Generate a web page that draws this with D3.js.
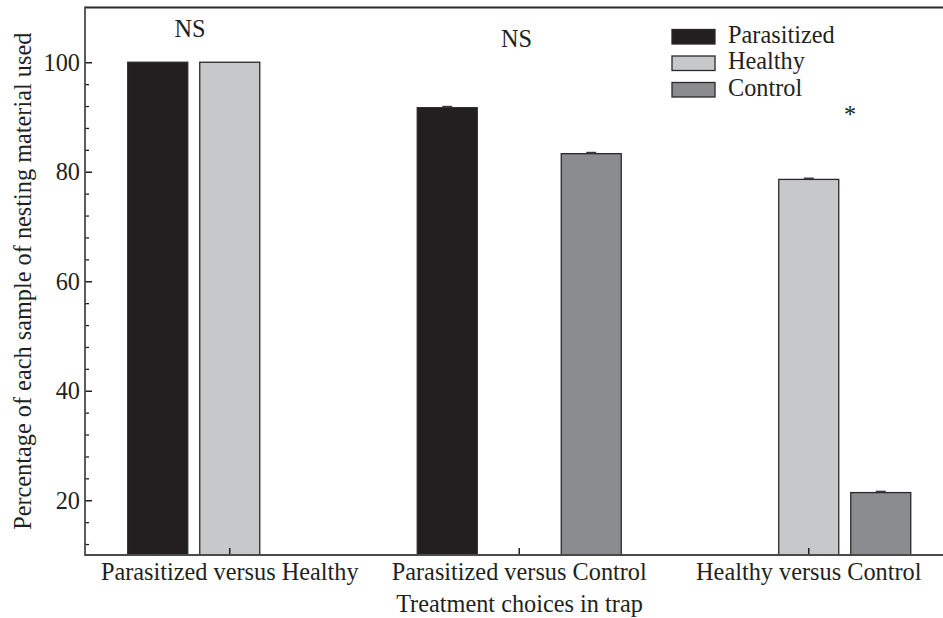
<!DOCTYPE html>
<html>
<head>
<meta charset="utf-8">
<script src="https://cdn.jsdelivr.net/npm/d3@7/dist/d3.min.js"></script>
<style>
  html, body { margin: 0; padding: 0; background: #fff; }
  svg { display: block; }
  text { font-family: "Liberation Serif", "DejaVu Serif", serif; fill: #231f20; }
</style>
</head>
<body>
<div id="chart"></div>
<script>
// Treatment pairs offered in each trap
const categories = ["Parasitized versus Healthy", "Parasitized versus Control", "Healthy versus Control"];
// Nesting material samples
const series = ["Parasitized", "Healthy", "Control"];
// Percentage of each sample used, per pair (null = sample not offered)
const parasitizedValues = [100, 91.7, null];
const healthyValues     = [100, null, 78.6];
const controlValues     = [null, 83.3, 21.4];
// Standard errors
const parasitizedErrors = [0, 0.2, null];
const healthyErrors     = [0, null, 0.2];
const controlErrors     = [null, 0.2, 0.2];
// Significance labels per pair
const significance = ["NS", "NS", "*"];
// Y-axis ticks
const yMajorTicks = [20, 40, 60, 80, 100];
const yMinorTicks = [12, 16, 24, 28, 32, 36, 44, 48, 52, 56, 64, 68, 72, 76, 84, 88, 92, 96];

const colors = { Parasitized: "#231f20", Healthy: "#c7c8ca", Control: "#8b8c8f" };
const valuesBySeries = { Parasitized: parasitizedValues, Healthy: healthyValues, Control: controlValues };
const errorsBySeries = { Parasitized: parasitizedErrors, Healthy: healthyErrors, Control: controlErrors };

const W = 943, H = 618;
const plotLeft = 85, plotTop = 7.5, plotBottom = 555, plotRight = 953.5;
const fs = 24.3;

const svg = d3.select("#chart").append("svg").attr("width", W).attr("height", H);

const x0 = d3.scaleBand().domain(categories).range([plotLeft, plotRight]).padding(0);
const x1 = d3.scaleBand().domain(series).range([-108, 108]).paddingInner(1 / 6).paddingOuter(1 / 12);
const y = d3.scaleLinear().domain([10, 110]).range([plotBottom, plotTop]);

// bar records built from the series arrays
const bars = [];
categories.forEach((c, i) => {
  series.forEach(s => {
    const v = valuesBySeries[s][i];
    if (v != null) bars.push({ cat: c, s, v, e: errorsBySeries[s][i] });
  });
});

const axisColor = "#4a4a4a";

// frame: top border
svg.append("line").attr("x1", plotLeft).attr("x2", plotRight).attr("y1", plotTop).attr("y2", plotTop)
  .attr("stroke", "#2a2a2a").attr("stroke-width", 1.8);

// bars
const barG = svg.append("g");
barG.selectAll("rect").data(bars).join("rect")
  .attr("x", d => x0(d.cat) + x0.bandwidth() / 2 + x1(d.s))
  .attr("y", d => y(d.v))
  .attr("width", x1.bandwidth())
  .attr("height", d => y(10) - y(d.v))
  .attr("fill", d => colors[d.s])
  .attr("stroke", "#2b2829")
  .attr("stroke-width", 1.3);

// error caps
barG.selectAll("g.err").data(bars.filter(d => d.e > 0)).join("g").attr("class", "err")
  .each(function (d) {
    const cx = x0(d.cat) + x0.bandwidth() / 2 + x1(d.s) + x1.bandwidth() / 2;
    const g = d3.select(this);
    g.append("line").attr("x1", cx).attr("x2", cx).attr("y1", y(d.v)).attr("y2", y(d.v + d.e))
      .attr("stroke", "#3a3a3a").attr("stroke-width", 1.2);
    g.append("line").attr("x1", cx - 5).attr("x2", cx + 5).attr("y1", y(d.v + d.e)).attr("y2", y(d.v + d.e))
      .attr("stroke", "#3a3a3a").attr("stroke-width", 1.6);
  });

// y axis: major ticks (inward) with labels
const yAxis = svg.append("g").attr("transform", `translate(${plotLeft},0)`)
  .call(d3.axisRight(y).tickValues(yMajorTicks).tickSize(7).tickFormat(""));
yAxis.select(".domain").remove();
yAxis.selectAll("line").attr("stroke", "#231f20").attr("stroke-width", 1.5);
svg.append("g").selectAll("text").data(yMajorTicks).join("text")
  .attr("x", plotLeft - 5).attr("y", d => y(d)).attr("dy", "0.35em")
  .attr("text-anchor", "end").attr("font-size", fs).text(d => d);

// y minor ticks
const yMinor = svg.append("g").attr("transform", `translate(${plotLeft},0)`)
  .call(d3.axisRight(y).tickValues(yMinorTicks).tickSize(4).tickFormat(""));
yMinor.select(".domain").remove();
yMinor.selectAll("line").attr("stroke", "#231f20").attr("stroke-width", 1.3);

// x axis: ticks point up into the plot
const xAxis = svg.append("g").attr("transform", `translate(0,${plotBottom})`)
  .call(d3.axisTop(x0).tickSize(7).tickFormat(""));
xAxis.select(".domain").remove();
xAxis.selectAll("line").attr("stroke", "#231f20").attr("stroke-width", 1.5);
svg.append("g").selectAll("text").data(categories).join("text")
  .attr("x", d => x0(d) + x0.bandwidth() / 2).attr("y", 580)
  .attr("text-anchor", "middle").attr("font-size", fs).text(d => d);

// axis lines
svg.append("line").attr("x1", plotLeft).attr("x2", plotLeft).attr("y1", plotTop - 0.9).attr("y2", plotBottom + 0.9)
  .attr("stroke", axisColor).attr("stroke-width", 1.8);
svg.append("line").attr("x1", plotLeft).attr("x2", plotRight).attr("y1", plotBottom).attr("y2", plotBottom)
  .attr("stroke", axisColor).attr("stroke-width", 1.8);

// axis titles
svg.append("text").attr("x", 519.5).attr("y", 611.5)
  .attr("text-anchor", "middle").attr("font-size", fs).text("Treatment choices in trap");
svg.append("text").attr("transform", `translate(31,${(plotTop + plotBottom) / 2}) rotate(-90)`)
  .attr("text-anchor", "middle").attr("font-size", fs)
  .text("Percentage of each sample of nesting material used");

// significance labels
const sigPos = [
  { x: 190, y: 37 },
  { x: 516.5, y: 47 },
  { x: 850, y: 123 }
];
svg.append("g").selectAll("text").data(significance).join("text")
  .attr("x", (d, i) => sigPos[i].x).attr("y", (d, i) => sigPos[i].y)
  .attr("text-anchor", "middle").attr("font-size", fs).text(d => d);

// legend
const legend = svg.append("g").attr("transform", "translate(672,29.5)");
const rows = legend.selectAll("g").data(series).join("g")
  .attr("transform", (d, i) => `translate(0,${i * 26.5})`);
rows.append("rect").attr("width", 43).attr("height", 14.5)
  .attr("fill", d => colors[d]).attr("stroke", "#2b2829").attr("stroke-width", 1.3);
rows.append("text").attr("x", 56).attr("y", 13).attr("font-size", fs).text(d => d);
</script>
</body>
</html>
